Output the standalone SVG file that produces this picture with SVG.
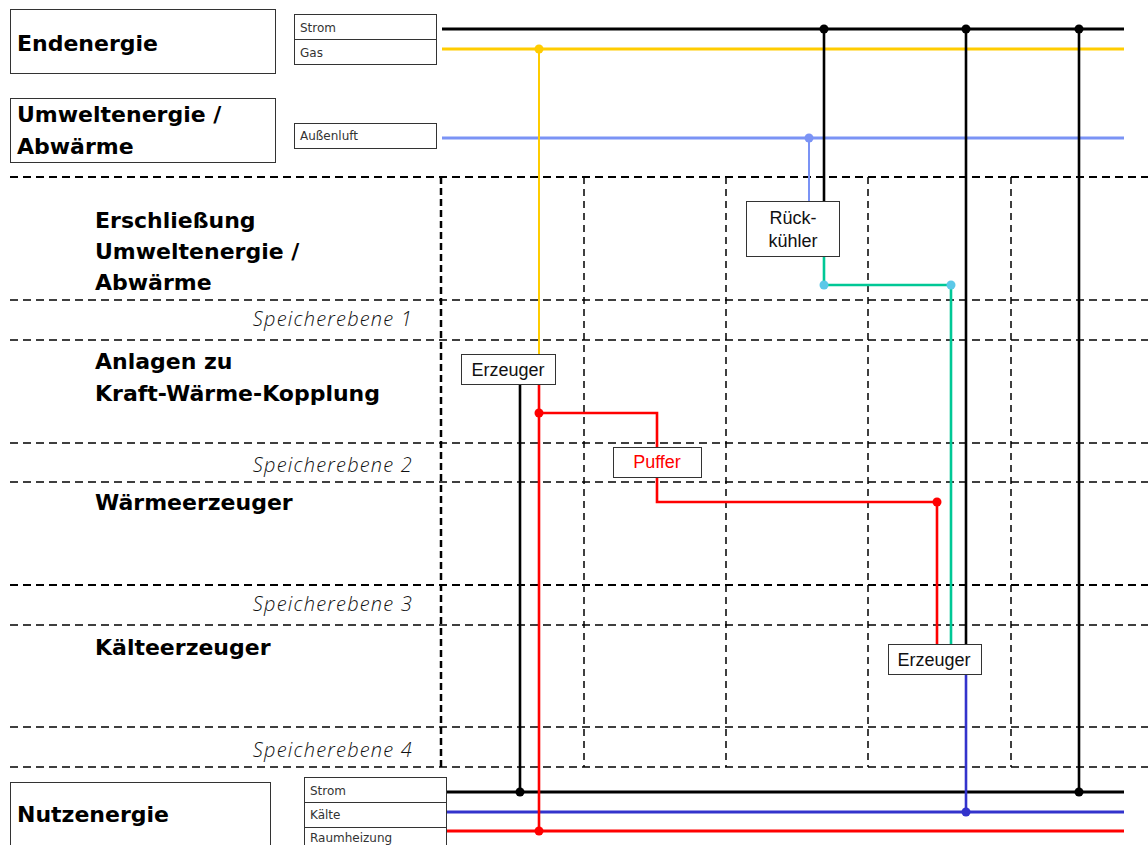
<svg xmlns="http://www.w3.org/2000/svg" width="1148" height="845" viewBox="0 0 1148 845">
<style>
.box{fill:#fff;stroke:#333;stroke-width:1}
.h{font-family:"DejaVu Sans","Open Sans",sans-serif;font-weight:bold;font-size:22px;fill:#000}
.sp{font-family:"Open Sans","DejaVu Sans",sans-serif;font-style:italic;font-weight:300;font-size:20px;letter-spacing:1.2px;fill:#111;text-anchor:end}
.sm{font-family:"DejaVu Sans","Open Sans",sans-serif;font-size:12px;fill:#333}
.nl{font-family:"Liberation Sans",Arial,sans-serif;font-size:18px;fill:#111;text-anchor:middle}
.grid{stroke:#000;stroke-width:1.6;stroke-dasharray:8 5;fill:none}
.gridv{stroke:#000;stroke-width:1.5;stroke-dasharray:7 5;fill:none}
.gridm{stroke:#000;stroke-width:2.5;stroke-dasharray:7 4;fill:none}
.w{fill:none;stroke-linejoin:miter}
</style>
<g id="grid">
<line class="grid" x1="10" y1="177" x2="1148" y2="177" style="stroke-width:2.2"/>
<line class="grid" x1="10" y1="300" x2="1148" y2="300"/>
<line class="grid" x1="10" y1="340" x2="1148" y2="340"/>
<line class="grid" x1="10" y1="443" x2="1148" y2="443"/>
<line class="grid" x1="10" y1="482" x2="1148" y2="482"/>
<line class="grid" x1="10" y1="585" x2="1148" y2="585" style="stroke-width:2.2"/>
<line class="grid" x1="10" y1="625" x2="1148" y2="625"/>
<line class="grid" x1="10" y1="727" x2="1148" y2="727"/>
<line class="grid" x1="10" y1="767" x2="1148" y2="767"/>
<line class="gridm" x1="441" y1="177" x2="441" y2="767"/>
<line class="gridv" x1="584" y1="177" x2="584" y2="767"/>
<line class="gridv" x1="726" y1="177" x2="726" y2="767"/>
<line class="gridv" x1="868" y1="177" x2="868" y2="767"/>
<line class="gridv" x1="1011" y1="177" x2="1011" y2="767"/>
</g>
<g id="labels">
<text class="h" x="95" y="228">Erschließung</text>
<text class="h" x="95" y="259">Umweltenergie /</text>
<text class="h" x="95" y="290">Abwärme</text>
<text class="h" x="95" y="369">Anlagen zu</text>
<text class="h" x="95" y="401">Kraft-Wärme-Kopplung</text>
<text class="h" x="95" y="510">Wärmeerzeuger</text>
<text class="h" x="95" y="655">Kälteerzeuger</text>
<text class="sp" x="413" y="326">Speicherebene 1</text>
<text class="sp" x="413" y="472">Speicherebene 2</text>
<text class="sp" x="413" y="611">Speicherebene 3</text>
<text class="sp" x="413" y="757">Speicherebene 4</text>
</g>
<g id="connectors">
<line x1="442" y1="29" x2="1124" y2="29" stroke="#000" stroke-width="3"/>
<line x1="442" y1="49" x2="1124" y2="49" stroke="#ffcc00" stroke-width="3"/>
<line x1="442" y1="138" x2="1124" y2="138" stroke="#7b93f5" stroke-width="3"/>
<line x1="447" y1="792" x2="1124" y2="792" stroke="#000" stroke-width="3"/>
<line x1="447" y1="812" x2="1124" y2="812" stroke="#3333cc" stroke-width="3"/>
<line x1="447" y1="831" x2="1124" y2="831" stroke="#ff0000" stroke-width="3"/>
<line x1="539" y1="49" x2="539" y2="354" stroke="#ffcc00" stroke-width="2"/>
<line x1="809" y1="138" x2="809" y2="202" stroke="#7b93f5" stroke-width="2"/>
<line x1="824" y1="29" x2="824" y2="202" stroke="#000" stroke-width="2.6"/>
<line x1="966" y1="29" x2="966" y2="644" stroke="#000" stroke-width="2.6"/>
<line x1="1079" y1="29" x2="1079" y2="792" stroke="#000" stroke-width="2.6"/>
<line x1="520" y1="384" x2="520" y2="792" stroke="#000" stroke-width="2.6"/>
<line x1="539" y1="384" x2="539" y2="831" stroke="#ff0000" stroke-width="2.6"/>
<polyline class="w" points="539,413 657,413 657,447" stroke="#ff0000" stroke-width="2.6"/>
<polyline class="w" points="657,477 657,502 937,502 937,644" stroke="#ff0000" stroke-width="2.6"/>
<polyline class="w" points="824,256 824,285 951,285 951,644" stroke="#00c896" stroke-width="2.6"/>
<line x1="966" y1="674" x2="966" y2="812" stroke="#3333cc" stroke-width="2.6"/>
<circle cx="824" cy="29" r="4.5" fill="#000"/>
<circle cx="966" cy="29" r="4.5" fill="#000"/>
<circle cx="1079" cy="29" r="4.5" fill="#000"/>
<circle cx="539" cy="49" r="4.5" fill="#ffcc00"/>
<circle cx="809" cy="138" r="4.5" fill="#7b93f5"/>
<circle cx="824" cy="285" r="4.5" fill="#5bc8e8"/>
<circle cx="951" cy="285" r="4.5" fill="#5bc8e8"/>
<circle cx="539" cy="413" r="4.5" fill="#ff0000"/>
<circle cx="937" cy="502" r="4.5" fill="#ff0000"/>
<circle cx="520" cy="792" r="4.5" fill="#000"/>
<circle cx="1079" cy="792" r="4.5" fill="#000"/>
<circle cx="966" cy="812" r="4.5" fill="#3333cc"/>
<circle cx="539" cy="831" r="4.5" fill="#ff0000"/>
</g>
<g id="endenergie">
<rect class="box" x="10.5" y="9.5" width="265" height="64"/>
<text class="h" x="17" y="51">Endenergie</text>
<rect class="box" x="294.5" y="14.5" width="142" height="25"/>
<rect class="box" x="294.5" y="39.5" width="142" height="25"/>
<text class="sm" x="300" y="32">Strom</text>
<text class="sm" x="300" y="57">Gas</text>
</g>
<g id="umweltenergie">
<rect class="box" x="10.5" y="98.5" width="265" height="64"/>
<text class="h" x="17" y="122">Umweltenergie /</text>
<text class="h" x="17" y="154">Abwärme</text>
<rect class="box" x="294.5" y="123.5" width="142" height="25"/>
<text class="sm" x="300" y="140">Außenluft</text>
</g>
<g id="nutzenergie">
<rect class="box" x="10.5" y="782.5" width="260" height="70"/>
<text class="h" x="17" y="822">Nutzenergie</text>
<rect class="box" x="304.5" y="777.5" width="142" height="25"/>
<rect class="box" x="304.5" y="802.5" width="142" height="25"/>
<rect class="box" x="304.5" y="827.5" width="142" height="25"/>
<text class="sm" x="310" y="795">Strom</text>
<text class="sm" x="310" y="819">Kälte</text>
<text class="sm" x="310" y="842">Raumheizung</text>
</g>
<g id="rueckkuehler">
<rect class="box" x="746.5" y="201.5" width="93" height="55"/>
<text class="nl" x="793" y="224">Rück-</text>
<text class="nl" x="793" y="247">kühler</text>
</g>
<g id="erzeuger1">
<rect class="box" x="461.5" y="354.5" width="94" height="30"/>
<text class="nl" x="508" y="376">Erzeuger</text>
</g>
<g id="puffer">
<rect class="box" x="613.5" y="447.5" width="88" height="30"/>
<text class="nl" x="657" y="468" style="fill:#ff0000">Puffer</text>
</g>
<g id="erzeuger2">
<rect class="box" x="888.5" y="644.5" width="93" height="30"/>
<text class="nl" x="934" y="666">Erzeuger</text>
</g>
</svg>
